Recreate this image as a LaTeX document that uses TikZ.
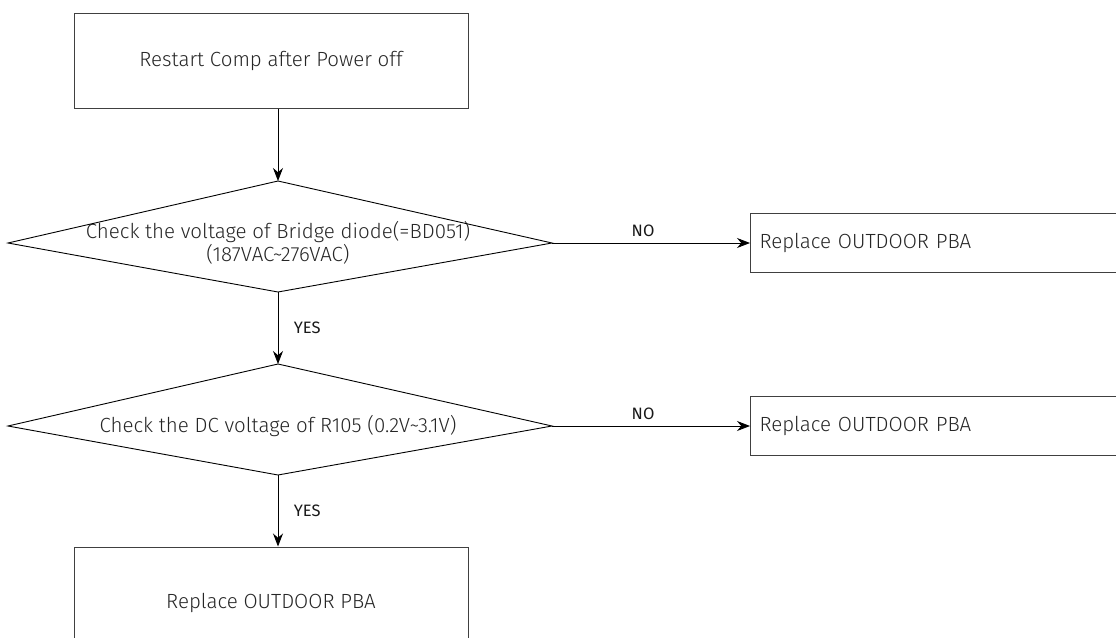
\documentclass[tikz,border=0pt]{standalone}
\usepackage{fontspec}
\setmainfont{Fira Sans}[UprightFont=* Light, BoldFont=*]
\usetikzlibrary{positioning,arrows.meta,calc}

% kite outline round a decision text, tips named <node>w/n/e/s
\newcommand\kite[1]{%
  \draw[kiteline] (#1.center) +(-270,0) coordinate (#1w) -- +(0,-62) coordinate (#1n)
    -- +(274,0) coordinate (#1e) -- +(0,49) coordinate (#1s) -- cycle;}

\begin{document}
\begin{tikzpicture}[
    x=1pt, y=-1pt,
    font=\fontsize{20.5}{22}\selectfont,
    >=Stealth,
    box/.style={
        draw=black!75,
        line width=1pt,
        text=black!85,
        align=center,
        inner sep=0pt
    },
    sidebox/.style={
        box,
        anchor=west,
        minimum width=380pt,
        minimum height=59pt,
        text width=362pt,
        align=left
    },
    decision/.style={
        text=black!85,
        align=center,
        inner sep=0pt,
        font=\fontsize{20.5}{16}\selectfont
    },
    kiteline/.style={draw=black, line width=0.9pt},
    flow/.style={->, line width=0.9pt, black, >={Stealth[length=13pt,width=10pt]}},
    answer/.style={font=\fontsize{16.5}{18}\selectfont\bfseries, text=black!90}
]
\clip (0,0) rectangle (1116,637);
\useasboundingbox (0,0) rectangle (1116,637);

% Nodes
\node[box, minimum width=394pt, minimum height=95pt] (start) at (271,60.5) {Restart Comp after Power off};

\node[decision] (bridge) at (278,243) {Check the voltage of Bridge diode(=BD051)\\(187VAC\char`~276VAC)};
\kite{bridge}

\node[decision] (resist) at (278,426) {Check the DC voltage of R105 (0.2V\char`~3.1V)};
\kite{resist}

\node[sidebox, right=198pt of bridgee] (pbaone) {Replace OUTDOOR PBA};
\node[sidebox, right=198pt of resiste] (pbatwo) {Replace OUTDOOR PBA};

\node[box, minimum width=394pt, minimum height=112pt] (stop) at (271,603) {Replace OUTDOOR PBA};

% Arrows
\draw[flow] (start.south -| bridgen) -- (bridgen);
\draw[flow] (bridges) -- (resistn) node[midway, right=12pt, answer] {YES};
\draw[flow] (resists) -- (resists |- stop.north) node[midway, right=12pt, answer] {YES};
\draw[flow] (bridgee) -- (pbaone.west) node[pos=0.46, above=3pt, answer] {NO};
\draw[flow] (resiste) -- (pbatwo.west) node[pos=0.46, above=3pt, answer] {NO};

\end{tikzpicture}
\end{document}
